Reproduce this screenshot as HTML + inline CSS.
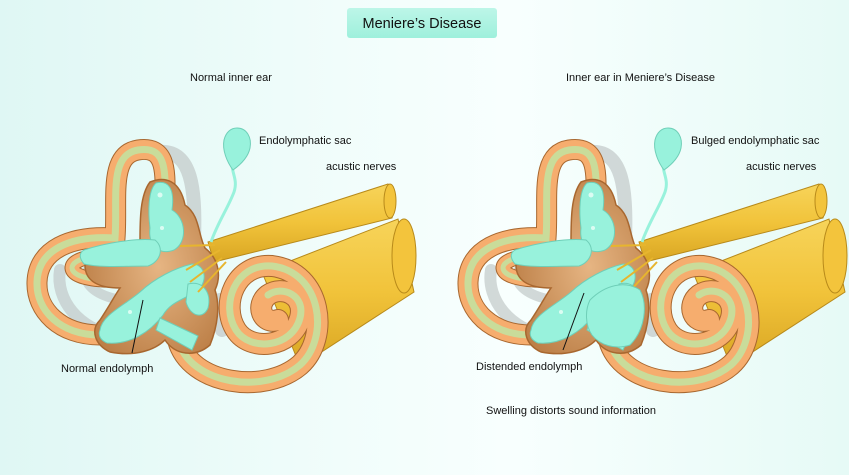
<!DOCTYPE html>
<html><head><meta charset="utf-8"><style>
html,body{margin:0;padding:0;}
body{width:849px;height:475px;overflow:hidden;background:linear-gradient(90deg,#dff7f4 0%,#f1fdfb 40%,#f8fffe 60%,#e6faf6 100%);font-family:"Liberation Sans",sans-serif;}
svg{position:absolute;left:0;top:0;}
</style></head><body>
<svg width="849" height="475" viewBox="0 0 849 475" xmlns="http://www.w3.org/2000/svg">
<defs>
<linearGradient id="cyl" x1="0" y1="0" x2="0" y2="1"><stop offset="0" stop-color="#f7d45a"/><stop offset="0.5" stop-color="#f1c33a"/><stop offset="1" stop-color="#d9a623"/></linearGradient>
<linearGradient id="ttl" x1="0" y1="0" x2="0" y2="1"><stop offset="0" stop-color="#bdf6e8"/><stop offset="1" stop-color="#9ef0dc"/></linearGradient>
<radialGradient id="ves" cx="0.55" cy="0.5" r="0.6"><stop offset="0" stop-color="#e6b583"/><stop offset="1" stop-color="#bd8048"/></radialGradient>
<g id="ear">
  <g fill="none" stroke="#c2c9c9" stroke-linecap="round" opacity="0.7">
    <path d="M160,152 C192,150 196,190 194,240" stroke-width="14"/>
    <path d="M120,255 C80,258 70,290 120,300" stroke-width="10"/>
    <path d="M60,270 C55,300 80,330 115,335" stroke-width="12"/>
    <path d="M220,300 L222,330" stroke-width="14"/>
  </g>
  <path d="M262,272 L398,219 L414,292 L300,366 Z" fill="url(#cyl)" stroke="#b88a1a" stroke-width="1"/>
  <ellipse cx="404" cy="256" rx="12" ry="37" fill="#f3c43c" stroke="#b88a1a" stroke-width="1"/>
  <path d="M208,242 L388,184 Q398,200 392,218 L214,262 Z" fill="url(#cyl)" stroke="#b88a1a" stroke-width="1"/>
  <ellipse cx="390" cy="201" rx="6" ry="17" fill="#f3c43c" stroke="#b88a1a" stroke-width="1"/>
  <g fill="none" stroke-linecap="round">
    <path d="M100,335 C60,335 36,310 37,282 C38,250 70,235 115,238 C118,200 108,155 138,150 C168,145 165,175 165,200" stroke="#a8672f" stroke-width="21"/>
    <path d="M100,335 C60,335 36,310 37,282 C38,250 70,235 115,238 C118,200 108,155 138,150 C168,145 165,175 165,200" stroke="#f6ad6e" stroke-width="19"/>
    <path d="M100,335 C60,335 36,310 37,282 C38,250 70,235 115,238 C118,200 108,155 138,150 C168,145 165,175 165,200" stroke="#c9dc9a" stroke-width="7"/>
    <path d="M140,256 C100,252 72,258 72,268 C73,280 110,283 145,278" stroke="#a8672f" stroke-width="15"/>
    <path d="M140,256 C100,252 72,258 72,268 C73,280 110,283 145,278" stroke="#f6ad6e" stroke-width="13"/>
    <path d="M140,256 C100,252 72,258 72,268 C73,280 110,283 145,278" stroke="#c9dc9a" stroke-width="5"/>
    <path d="M178,340 C190,385 265,395 300,365 C330,338 322,272 272,266 C235,263 220,305 236,330 C250,352 292,348 300,318 C306,295 282,285 268,295 C255,305 262,325 278,320" stroke="#a8672f" stroke-width="22"/>
    <path d="M178,340 C190,385 265,395 300,365 C330,338 322,272 272,266 C235,263 220,305 236,330 C250,352 292,348 300,318 C306,295 282,285 268,295 C255,305 262,325 278,320" stroke="#f6ad6e" stroke-width="20"/>
    <path d="M178,340 C190,385 265,395 300,365 C330,338 322,272 272,266 C235,263 220,305 236,330 C250,352 292,348 300,318 C306,295 282,285 268,295" stroke="#c9dc9a" stroke-width="7"/>
  </g>
  <path d="M150,182 C165,176 180,180 185,205 C200,215 198,235 205,248 C218,258 222,275 215,290 C220,305 218,325 210,345 C195,358 175,355 165,340 C155,350 135,357 110,352 C95,345 90,330 100,320 C110,305 115,295 120,288 C100,288 85,282 85,265 C95,250 120,245 140,242 C140,220 140,195 150,182 Z" fill="url(#ves)" stroke="#a8672f" stroke-width="1.5"/>
  <g fill="#98f2dc" stroke="#6fcfb8" stroke-width="1">
    <path d="M156,183 C168,180 175,188 172,210 C186,218 188,242 174,250 C158,256 148,244 150,228 C148,212 148,190 156,183 Z"/>
    <path d="M84,250 C105,243 135,238 155,240 C165,248 160,262 148,266 C125,266 102,268 84,264 C79,258 79,253 84,250 Z"/>
    <path d="M100,330 C102,315 125,305 140,292 C155,278 175,268 192,264 C204,264 208,278 200,288 C186,300 172,300 163,315 C150,332 130,345 107,343 C100,340 98,335 100,330 Z"/>
    <path d="M188,284 C202,280 212,292 208,308 C203,320 190,316 186,302 Z"/>
    <path d="M160,318 L198,336 L192,350 L156,330 Z"/>
  </g>
  <g fill="#eefff9" opacity="0.8"><circle cx="160" cy="195" r="2.5"/><circle cx="162" cy="228" r="2"/><circle cx="130" cy="312" r="2"/></g>
  <path d="M211,242 C218,222 228,208 234,192 C238,180 232,174 232,164" fill="none" stroke="#98f2dc" stroke-width="3"/>
  <path d="M237,128 C247,128 252,138 250,148 C248,158 240,165 233,170 C227,162 222,150 224,140 C226,132 231,128 237,128 Z" fill="#98f2dc" stroke="#6fcfb8" stroke-width="1"/>
  <g stroke="#e7b52e" stroke-width="2" fill="none"><path d="M180,246 L215,245"/><path d="M186,270 L220,250"/><path d="M190,282 L222,258"/><path d="M198,292 L226,262"/></g>
</g>
</defs>
<rect x="347" y="8" width="150" height="30" rx="3" fill="url(#ttl)"/>
<text x="422" y="28" font-size="14.5" text-anchor="middle" fill="#111">Meniere’s Disease</text>
<use href="#ear"/>
<use href="#ear" x="431"/>
<path d="M590,300 C605,285 625,280 640,290 C648,305 645,330 630,345 C615,350 600,345 592,335 C585,325 585,310 590,300 Z" fill="#98f2dc" stroke="#6fcfb8" stroke-width="1"/>
<line x1="143" y1="300" x2="132" y2="353" stroke="#111" stroke-width="1"/>
<line x1="584" y1="293" x2="563" y2="350" stroke="#111" stroke-width="1"/>
<g font-size="11" fill="#111">
<text x="190" y="81">Normal inner ear</text>
<text x="566" y="81">Inner ear in Meniere’s Disease</text>
<text x="259" y="144">Endolymphatic sac</text>
<text x="326" y="170">acustic nerves</text>
<text x="61" y="372">Normal endolymph</text>
<text x="691" y="144">Bulged endolymphatic sac</text>
<text x="746" y="170">acustic nerves</text>
<text x="476" y="370">Distended endolymph</text>
<text x="486" y="414">Swelling distorts sound information</text>
</g>
</svg>
</body></html>
